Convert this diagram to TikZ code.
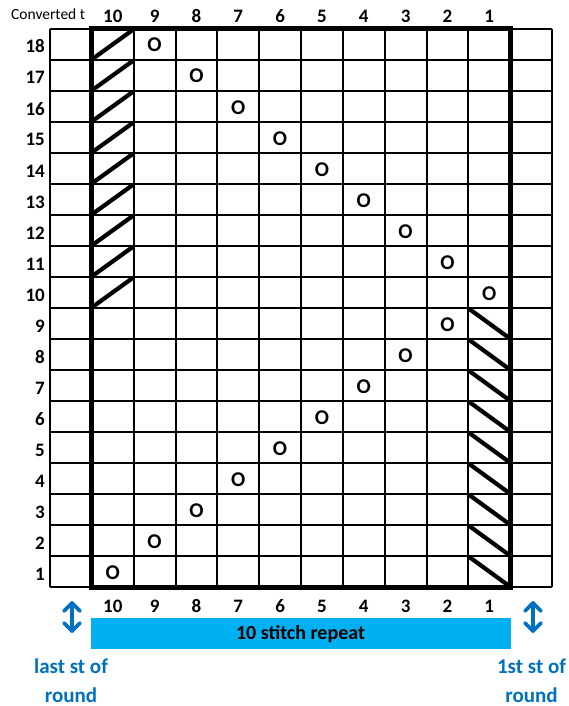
\documentclass[tikz,border=0pt]{standalone}
\usepackage{fontspec}
\setmainfont{Carlito}
\usetikzlibrary{calc}
\definecolor{barblue}{HTML}{00B0F0}
\definecolor{txtblue}{HTML}{0070C0}
\begin{document}
\begin{tikzpicture}[x=1pt,y=-1pt,
  gridline/.style={line width=2pt,black},
  frame/.style={line width=5pt,black,line cap=rect},
  slash/.style={line width=4.2pt,black},
  numlbl/.style={font=\fontsize{19}{19}\selectfont\bfseries,inner sep=0pt},
  omark/.style={font=\fontsize{21}{21}\selectfont\bfseries,inner sep=0pt,anchor=base},
  bluetxt/.style={font=\fontsize{21}{21}\selectfont\bfseries,text=txtblue,inner sep=0pt,anchor=base},
  bluearrow/.style={line width=3.6pt,txtblue,line cap=round,line join=round}]
\useasboundingbox (0,0) rectangle (569,706);
\def\cw{41.833}
% grid
\foreach \i in {0,...,12}
  \draw[gridline] ({50+\i*\cw},29) -- ({50+\i*\cw},587);
\foreach \j in {0,...,18}
  \draw[gridline] (50,{29+\j*31}) -- (552,{29+\j*31});
% thick repeat frame
\draw[frame] ({50+\cw},29) rectangle ({50+11*\cw},587);
% left slashes rows 18..10
\foreach \j in {0,...,8}
  \draw[slash] ({50+\cw+2},{29+(\j+1)*31-2}) -- ({50+2*\cw-1},{29+\j*31+1});
% right slashes rows 9..1
\foreach \j in {9,...,17}
  \draw[slash] ({50+10*\cw+1},{29+\j*31+1}) -- ({50+11*\cw-1},{29+(\j+1)*31-1});
% row labels
\foreach \r in {1,...,18}
  \node[numlbl,anchor=base east] (row\r) at (45,{29+(19-\r)*31-7}) {\r};
% column labels top and bottom
\foreach \c in {1,...,10} {
  \node[numlbl,anchor=base] (top\c) at ({50+(11-\c+0.5)*\cw},23) {\c};
  \node[numlbl,anchor=base] (bot\c) at ({50+(11-\c+0.5)*\cw},612) {\c};
}
% O marks
\foreach \r in {10,...,18} {
  \pgfmathtruncatemacro\cc{\r-9}
  \node[omark] (o\r) at ({50+(11-\cc+0.5)*\cw},{29+(19-\r)*31-8}) {O};
}
\foreach \r in {1,...,9} {
  \pgfmathtruncatemacro\cc{11-\r}
  \node[omark] (o\r) at ({50+(11-\cc+0.5)*\cw},{29+(19-\r)*31-8}) {O};
}
% heading
\begin{scope}
\clip (0,0) rectangle (89,29);
\node[font=\fontsize{15.5}{15.5}\selectfont,inner sep=0pt,anchor=base west] (conv) at (11,20) {Converted t};
\end{scope}
% repeat bar
\fill[barblue] (91,618) rectangle (510.5,649);
\node[font=\fontsize{20}{20}\selectfont\bfseries,inner sep=0pt] (rep) at (300.5,634) {10 stitch repeat};
% arrows
\foreach \x/\n in {72/la,533/ra} {
  \coordinate (\n t) at (\x,603);
  \coordinate (\n b) at (\x,631);
  \draw[bluearrow] (\n t) -- (\n b);
  \draw[bluearrow] ($(\n t)+(-8,8)$) -- (\n t) -- ($(\n t)+(8,8)$);
  \draw[bluearrow] ($(\n b)+(-8,-8)$) -- (\n b) -- ($(\n b)+(8,-8)$);
}
% blue notes
\node[bluetxt] (last1) at (71,673) {last st of};
\node[bluetxt] (last2) at (71,702) {round};
\node[bluetxt] (first1) at (531.5,673) {1st st of};
\node[bluetxt] (first2) at (531.5,702) {round};
\end{tikzpicture}
\end{document}
